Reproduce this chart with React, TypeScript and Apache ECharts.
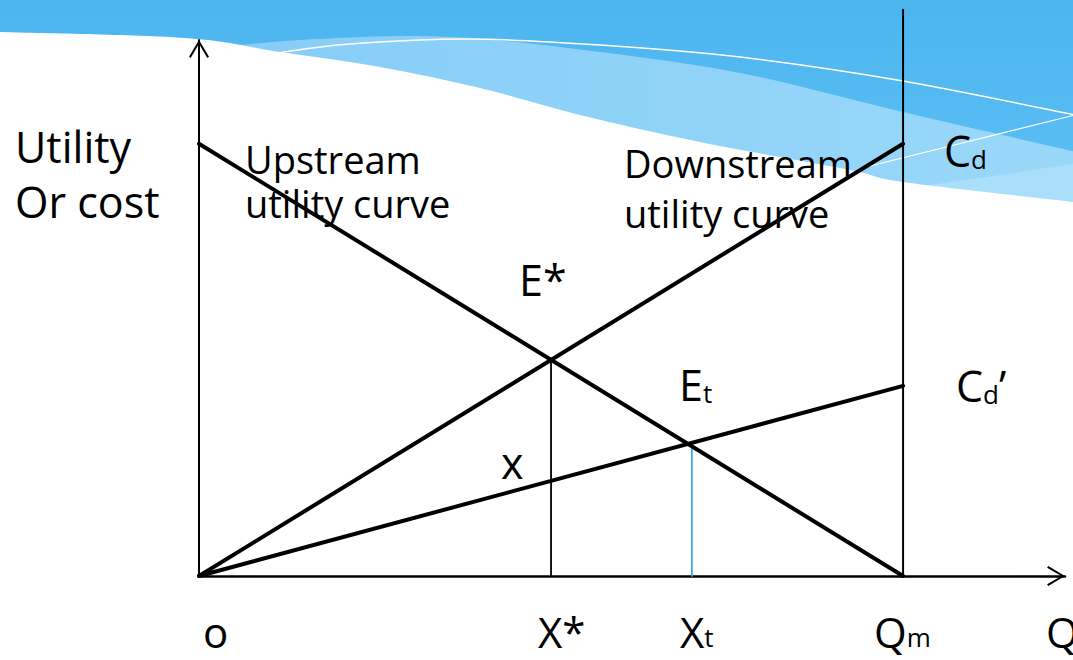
import React, { useEffect, useRef } from "react";
import * as echarts from "echarts";

// ---- data (diagram units: quantity 0..Qm=100, utility 0..100) ----
const xAxisMax = 123;
const yAxisMax = 124;
const upstreamUtility = [[0, 100], [100, 0]];
const downstreamUtility = [[0, 0], [100, 100]];
const reducedDownstream = [[0, 0], [100, 44]];
const xStarDrop = [[50, 0], [50, 50]];
const xTDrop = [[70, 0], [70, 30.5]];
const qmBoundary = [[100, 0], [100, 131]];

const FONT = '"Open Sans", "Noto Sans", sans-serif';

// ---- decorative wave (pixel layout of the slide background) ----
const waveWhiteEdge = [[-10, 32], [0, 32], [185, 38], [280, 52], [380, 67], [480, 88], [580, 115], [700, 142], [850, 170], [903, 182], [1073, 202], [1085, 204]];
const waveLightEdge = [[230, 46], [300, 40], [400, 36], [483, 39], [600, 52], [740, 73], [903, 112], [1085, 154]];
const waveLightestEdge = [[915, 187], [1000, 175], [1085, 162]];
const waveThinLine = [[276, 53], [350, 44], [470, 39], [600, 45], [740, 57], [903, 81], [1085, 117]];

function spline(pts: number[][]): string {
  let d = `M${pts[0][0]},${pts[0][1]}`;
  for (let i = 0; i < pts.length - 1; i++) {
    const p0 = pts[i - 1] || pts[i];
    const p1 = pts[i];
    const p2 = pts[i + 1];
    const p3 = pts[i + 2] || p2;
    const c1x = p1[0] + (p2[0] - p0[0]) / 6;
    const c1y = p1[1] + (p2[1] - p0[1]) / 6;
    const c2x = p2[0] - (p3[0] - p1[0]) / 6;
    const c2y = p2[1] - (p3[1] - p1[1]) / 6;
    d += ` C${c1x},${c1y} ${c2x},${c2y} ${p2[0]},${p2[1]}`;
  }
  return d;
}

let registered = false;
function registerWaves() {
  if (registered) return;
  registered = true;
  const lightTop = spline(waveLightEdge);
  const lightestTop = spline(waveLightestEdge);
  const whiteTop = spline(waveWhiteEdge);
  const thin = spline(waveThinLine);
  echarts.graphic.registerShape("waveBase", echarts.graphic.extendPath("M-10,-10 L1085,-10 L1085,300 L-10,300 Z", {}));
  echarts.graphic.registerShape("waveLight", echarts.graphic.extendPath(lightTop + " L1085,320 L230,320 Z", {}));
  echarts.graphic.registerShape("waveLightest", echarts.graphic.extendPath(lightestTop + " L1085,320 L915,320 Z", {}));
  echarts.graphic.registerShape("waveWhite", echarts.graphic.extendPath(whiteTop + " L1085,670 L-10,670 Z", {}));
  echarts.graphic.registerShape("waveThin", echarts.graphic.extendPath(thin, {}));
  echarts.graphic.registerShape("waveThin2", echarts.graphic.extendPath("M1075,115 L866,167", {}));
}

const chevron = "path://M10,0 L20,16.6 L18.3,17.8 L10,3.6 L1.7,17.8 L0,16.6 Z";

function txt(text: string, x: number, y: number, size: number, lineH: number, subSize = 26) {
  return {
    type: "text",
    z: 100,
    x,
    y,
    style: {
      text,
      fontSize: size,
      lineHeight: lineH,
      fontFamily: FONT,
      fill: "#000",
      align: "left",
      verticalAlign: "middle",
      rich: {
        s: { fontSize: subSize, fontFamily: FONT, fill: "#000", lineHeight: subSize + 3, verticalAlign: "bottom" },
      },
    },
  };
}

function lineSeries(data: number[][], width: number, color = "#000", clip = true) {
  return {
    type: "line",
    data,
    symbol: "none",
    clip,
    silent: true,
    lineStyle: { color, width, cap: "round" },
    z: 5,
  };
}

export default function App() {
  const ref = useRef<HTMLDivElement>(null);
  useEffect(() => {
    if (!ref.current) return;
    registerWaves();
    const chart = echarts.init(ref.current, undefined, { renderer: "svg" });
    chart.setOption({
      animation: false,
      backgroundColor: "#fff",
      grid: { left: 199, right: 8, top: 40, bottom: 84, containLabel: false },
      xAxis: {
        type: "value",
        min: 0,
        max: xAxisMax,
        splitLine: { show: false },
        axisTick: { show: false },
        axisLabel: { show: false },
        axisLine: {
          show: true,
          symbol: ["none", chevron],
          symbolSize: [20, 18],
          symbolOffset: [0, -9],
          lineStyle: { color: "#000", width: 2.5 },
        },
      },
      yAxis: {
        type: "value",
        min: 0,
        max: yAxisMax,
        splitLine: { show: false },
        axisTick: { show: false },
        axisLabel: { show: false },
        axisLine: {
          show: true,
          symbol: ["none", chevron],
          symbolSize: [20, 18],
          symbolOffset: [0, -9],
          lineStyle: { color: "#000", width: 2 },
        },
      },
      series: [
        lineSeries(qmBoundary, 2, "#000", false),
        lineSeries(xStarDrop, 1.8),
        lineSeries(xTDrop, 1.8, "#3AA8E6"),
        lineSeries(upstreamUtility, 4),
        lineSeries(downstreamUtility, 4),
        lineSeries(reducedDownstream, 4),
      ],
      graphic: [
        {
          type: "waveBase",
          z: -10,
          silent: true,
          style: {
            fill: new echarts.graphic.LinearGradient(0, 0, 0, 1, [
              { offset: 0, color: "#4BB4EF" },
              { offset: 0.7, color: "#5DC0F4" },
              { offset: 1, color: "#66C6F6" },
            ]),
          },
        },
        {
          type: "waveLight",
          z: -9,
          silent: true,
          style: {
            fill: new echarts.graphic.LinearGradient(0, 0, 1, 0, [
              { offset: 0, color: "#86CDF7" },
              { offset: 1, color: "#9AD8F9" },
            ]),
          },
        },
        { type: "waveLightest", z: -8, silent: true, style: { fill: "#AADFFA" } },
        { type: "waveWhite", z: -7, silent: true, style: { fill: "#FFFFFF" } },
        { type: "waveThin", z: -6, silent: true, style: { fill: "none", stroke: "#FFFFFF", lineWidth: 1.5 } },
        { type: "waveThin2", z: -6, silent: true, style: { fill: "none", stroke: "#FFFFFF", lineWidth: 1.2 } },
        txt("Utility", 15, 146, 43, 46),
        txt("Or cost", 15, 201, 43, 46),
        txt("Upstream", 245, 159, 38, 40),
        txt("utility curve", 245, 203, 38, 40),
        txt("Downstream", 624, 163, 38, 40),
        txt("utility curve", 624, 213, 38, 40),
        txt("E*", 519, 279, 43, 44),
        txt("E{s|t}", 679, 384, 43, 44),
        txt("x", 501, 462, 43, 44),
        txt("C{s|d}", 944, 150, 43, 44),
        txt("C{s|d}’", 956, 385, 43, 44),
        txt("o", 203, 631, 42, 38),
        txt("X*", 538, 631, 42, 38),
        txt("X{s|t}", 680, 631, 42, 38),
        txt("Q{s|m}", 874, 631, 42, 38),
        txt("Q", 1046, 631, 42, 38),
      ],
    });
    return () => chart.dispose();
  }, []);
  return <div ref={ref} style={{ position: "fixed", left: 0, top: 0, width: 1073, height: 660 }} />;
}
